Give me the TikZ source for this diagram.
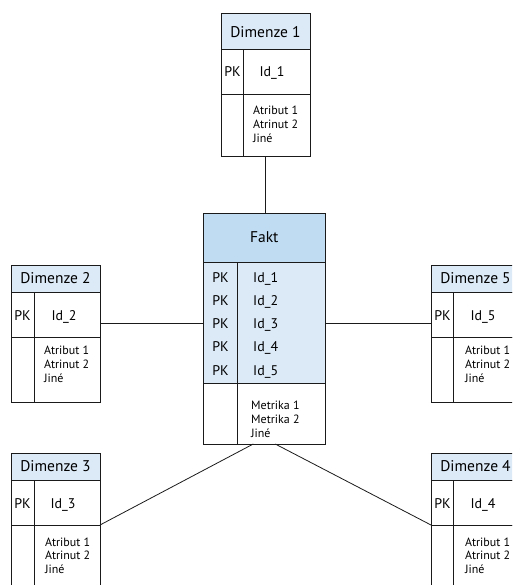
\documentclass[tikz,border=0pt]{standalone}
\usepackage{fontspec}
\setmainfont{PT Sans}
\definecolor{hdrblue}{HTML}{DCEAF8}
\definecolor{factblue}{HTML}{BFDCF3}
\definecolor{keyblue}{HTML}{DCEAF8}
\definecolor{ink}{HTML}{1A1A1A}
\begin{document}
\begin{tikzpicture}[x=1pt,y=-1pt,
  cell/.style={draw=ink, line width=1pt, inner sep=0pt, outer sep=0pt, anchor=north west, minimum width=89pt},
  hdr/.style={cell, fill=hdrblue, font=\fontsize{15.5}{18}\selectfont},
  keytext/.style={inner sep=0pt, anchor=base, font=\fontsize{14}{16}\selectfont},
  idtext/.style={inner sep=0pt, anchor=base west, font=\fontsize{14}{16}\selectfont},
  attrtext/.style={inner sep=0pt, anchor=west, font=\fontsize{12}{14}\selectfont},
  divider/.style={draw=ink, line width=1pt},
  link/.style={draw=ink, line width=0.8pt}
]
\useasboundingbox (0,0) rectangle (512,585);
\clip (0,0) rectangle (512,585);

% ---------- Fakt ----------
\node[cell, minimum width=121.5pt, minimum height=49pt, fill=factblue, font=\fontsize{15.5}{18}\selectfont] (fh) at (203.5,213) {Fakt};
\node[cell, minimum width=121.5pt, minimum height=121pt, fill=keyblue] (fp) at (fh.south west) {};
\node[cell, minimum width=121.5pt, minimum height=61pt] (fa) at (fp.south west) {};
\draw[divider] ([xshift=33.5pt]fp.north west) -- ([xshift=33.5pt]fa.south west);
\node[keytext] (fk1) at (220.5,282) {PK};
\node[keytext] (fk2) at (220.5,305.3) {PK};
\node[keytext] (fk3) at (220.5,328.5) {PK};
\node[keytext] (fk4) at (220.5,351.8) {PK};
\node[keytext] (fk5) at (220.5,375) {PK};
\node[idtext] (fi1) at (253,282) {Id\_1};
\node[idtext] (fi2) at (253,305.3) {Id\_2};
\node[idtext] (fi3) at (253,328.5) {Id\_3};
\node[idtext] (fi4) at (253,351.8) {Id\_4};
\node[idtext] (fi5) at (253,375) {Id\_5};
\node[attrtext] (fm1) at (251,405) {Metrika 1};
\node[attrtext] (fm2) at (251,419) {Metrika 2};
\node[attrtext] (fm3) at (251,433) {Jiné};

% ---------- Dimenze 1 ----------
\node[hdr, minimum height=36pt] (d1h) at (221,14) {Dimenze 1};
\node[cell, minimum height=45pt] (d1p) at (d1h.south west) {};
\node[cell, minimum height=62pt] (d1a) at (d1p.south west) {};
\draw[divider] ([xshift=22pt]d1p.north west) -- ([xshift=22pt]d1a.south west);
\node[keytext] (d1k) at (232.5,77) {PK};
\node[keytext] (d1i) at (272,77) {Id\_1};
\node[attrtext] (d1a1) at (253,110) {Atribut 1};
\node[attrtext] (d1a2) at (253,124) {Atrinut 2};
\node[attrtext] (d1a3) at (253,138) {Jiné};

% ---------- Dimenze 2 ----------
\node[hdr, minimum height=27pt] (d2h) at (11,265) {Dimenze 2};
\node[cell, minimum height=45pt] (d2p) at (d2h.south west) {};
\node[cell, minimum height=65pt] (d2a) at (d2p.south west) {};
\draw[divider] ([xshift=23pt]d2p.north west) -- ([xshift=23pt]d2a.south west);
\node[keytext] (d2k) at (22.5,320) {PK};
\node[keytext] (d2i) at (64,320) {Id\_2};
\node[attrtext] (d2a1) at (44,350) {Atribut 1};
\node[attrtext] (d2a2) at (44,364) {Atrinut 2};
\node[attrtext] (d2a3) at (44,378) {Jiné};

% ---------- Dimenze 5 ----------
\node[hdr, minimum height=27pt] (d5h) at (431,265) {Dimenze 5};
\node[cell, minimum height=45pt] (d5p) at (d5h.south west) {};
\node[cell, minimum height=65pt] (d5a) at (d5p.south west) {};
\draw[divider] ([xshift=22pt]d5p.north west) -- ([xshift=22pt]d5a.south west);
\node[keytext] (d5k) at (442.5,320) {PK};
\node[keytext] (d5i) at (483,320) {Id\_5};
\node[attrtext] (d5a1) at (465,350) {Atribut 1};
\node[attrtext] (d5a2) at (465,364) {Atrinut 2};
\node[attrtext] (d5a3) at (465,378) {Jiné};

% ---------- Dimenze 3 ----------
\node[hdr, minimum height=27pt] (d3h) at (11,453) {Dimenze 3};
\node[cell, minimum height=45pt] (d3p) at (d3h.south west) {};
\node[cell, minimum height=65pt] (d3a) at (d3p.south west) {};
\draw[divider] ([xshift=23pt]d3p.north west) -- ([xshift=23pt]d3a.south west);
\node[keytext] (d3k) at (22.5,508) {PK};
\node[keytext] (d3i) at (63,508) {Id\_3};
\node[attrtext] (d3a1) at (45,542) {Atribut 1};
\node[attrtext] (d3a2) at (45,555.5) {Atrinut 2};
\node[attrtext] (d3a3) at (45,569) {Jiné};

% ---------- Dimenze 4 ----------
\node[hdr, minimum height=27pt] (d4h) at (431,453) {Dimenze 4};
\node[cell, minimum height=45pt] (d4p) at (d4h.south west) {};
\node[cell, minimum height=65pt] (d4a) at (d4p.south west) {};
\draw[divider] ([xshift=22pt]d4p.north west) -- ([xshift=22pt]d4a.south west);
\node[keytext] (d4k) at (442.5,508) {PK};
\node[keytext] (d4i) at (483,508) {Id\_4};
\node[attrtext] (d4a1) at (465,542) {Atribut 1};
\node[attrtext] (d4a2) at (465,555.5) {Atrinut 2};
\node[attrtext] (d4a3) at (465,569) {Jiné};

% ---------- connectors ----------
\draw[link] (d1a.south) -- (d1a.south |- fh.north);
\draw[link] (d2p.east |- fk3.center) -- (fp.west |- fk3.center);
\draw[link] (d5p.west |- fk3.center) -- (fp.east |- fk3.center);
\draw[link] ([xshift=-11pt]fa.south) -- (d3p.south east);
\draw[link] ([xshift=11pt]fa.south) -- (d4p.south west);
\end{tikzpicture}
\end{document}
